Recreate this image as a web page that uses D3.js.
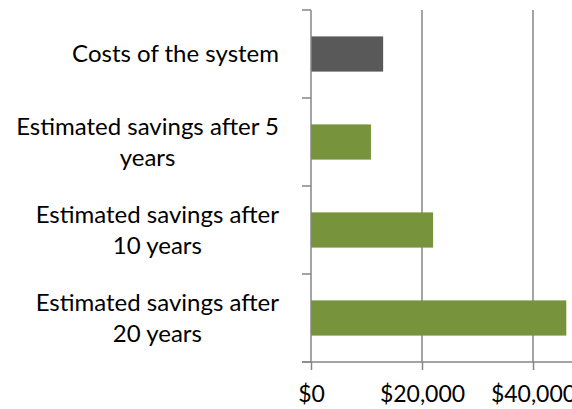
<html>
<meta charset="utf-8">
<script src="https://d3js.org/d3.v7.min.js"></script>
<style>
  body { margin: 0; background: #fff; }
</style>
<div id="chart"></div>
<script>
// data
let categories = ["Costs of the system",
  "Estimated savings after 5 years",
  "Estimated savings after 10 years",
  "Estimated savings after 20 years"]
let labelLines = [["Costs of the system"],
  ["Estimated savings after 5", "years"],
  ["Estimated savings after", "10 years"],
  ["Estimated savings after", "20 years"]]
let values = [13000, 10800, 22000, 46000]
let barColors = ["#595959", "#77933C", "#77933C", "#77933C"]
let xTicks = [0, 20000, 40000]

let width = 572,
    height = 409

let svg = d3.select("#chart")
  .append("svg")
    .attr("width", width)
    .attr("height", height)

let font = "Lato, 'Open Sans', sans-serif"
let fontSize = 24
let axisColor = "#868686"

let x = d3.scaleLinear()
  .domain([0, 40000])
  .range([311, 533])

let y = d3.scaleBand()
  .domain(categories)
  .range([10, 362])
  .paddingInner(0.6)
  .paddingOuter(0.3)

let step = y.step()

// gridlines
svg.selectAll(".grid")
  .data(xTicks.filter(d => d > 0))
  .enter()
  .append("line")
    .attr("x1", d => x(d))
    .attr("x2", d => x(d))
    .attr("y1", 10)
    .attr("y2", 362)
    .attr("stroke", axisColor)
    .attr("stroke-width", 1.5)

// bars
svg.selectAll(".bar")
  .data(categories)
  .enter()
  .append("rect")
    .attr("x", x(0))
    .attr("y", d => y(d))
    .attr("width", (d, i) => x(values[i]) - x(0))
    .attr("height", y.bandwidth())
    .attr("fill", (d, i) => barColors[i])

// y axis with ticks between categories
svg.append("line")
  .attr("x1", x(0)).attr("x2", x(0))
  .attr("y1", 10).attr("y2", 362)
  .attr("stroke", axisColor)
  .attr("stroke-width", 1.5)

svg.selectAll(".ytick")
  .data(d3.range(categories.length + 1))
  .enter()
  .append("line")
    .attr("x1", x(0) - 9)
    .attr("x2", x(0))
    .attr("y1", i => 10 + i * step)
    .attr("y2", i => 10 + i * step)
    .attr("stroke", axisColor)
    .attr("stroke-width", 1.5)

// x axis
let xAxis = svg.append("g")
  .attr("transform", "translate(0,362)")
  .call(d3.axisBottom(x)
    .tickValues(xTicks)
    .tickSize(8)
    .tickPadding(16)
    .tickFormat(d => "$" + d3.format(",")(d)))

xAxis.select(".domain").remove()
xAxis.append("line")
  .attr("x1", x(0) - 9)
  .attr("x2", width)
  .attr("stroke", axisColor)
  .attr("stroke-width", 1.5)
xAxis.selectAll(".tick line")
  .attr("stroke", axisColor)
  .attr("stroke-width", 1.5)
xAxis.selectAll(".tick text")
  .attr("fill", "#000")
  .attr("font-family", font)
  .attr("font-size", "23px")

// category labels: block right aligned, lines centered inside it
let labelRight = 279
let lineHeight = 31
categories.forEach(function(c, i) {
  let g = svg.append("g")
  let lines = labelLines[i]
  let texts = g.selectAll("text")
    .data(lines)
    .enter()
    .append("text")
      .attr("font-family", font)
      .attr("font-size", fontSize + "px")
      .attr("fill", "#000")
      .attr("text-anchor", "middle")
      .attr("dy", "0.35em")
      .text(d => d)
  let maxW = d3.max(texts.nodes(), n => n.getComputedTextLength())
  let cy = y(c) + y.bandwidth() / 2
  texts
    .attr("x", labelRight - maxW / 2)
    .attr("y", (d, j) => cy + (j - (lines.length - 1) / 2) * lineHeight)
})
</script>
</html>
